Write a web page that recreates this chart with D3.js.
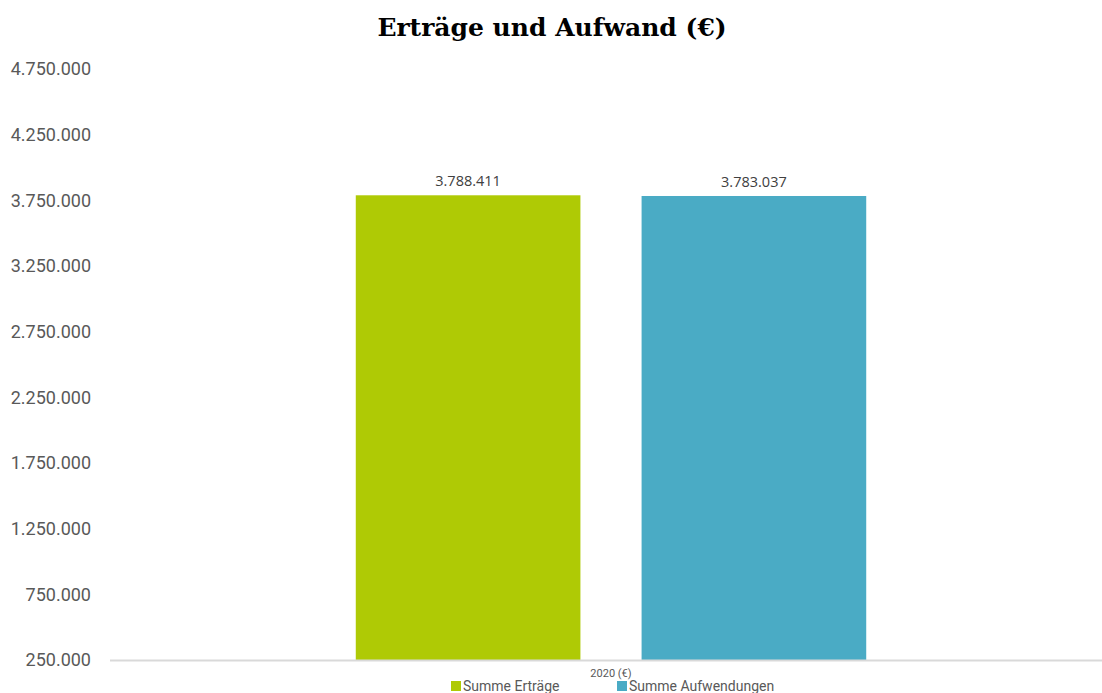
<!DOCTYPE html>
<html>
<head>
<meta charset="utf-8">
<script src="https://cdn.jsdelivr.net/npm/d3@7"></script>
<style>
  body { margin: 0; background: #fff; }
  svg { display: block; }
</style>
</head>
<body>
<svg id="chart"></svg>
<script>
const width = 1102;
const height = 693;

// daten
const categories = ['2020 (€)'];
const seriesNames = ['Summe Erträge', 'Summe Aufwendungen'];
const seriesValues = [3788411, 3783037];
const seriesColors = ['#afca05', '#4aabc5'];
const yTicks = [250000, 750000, 1250000, 1750000, 2250000, 2750000, 3250000, 3750000, 4250000, 4750000];

const fmt = d3.formatLocale({decimal: ',', thousands: '.', grouping: [3], currency: ['', '€']}).format(',d');

const svg = d3.select('#chart')
    .attr('width', width)
    .attr('height', height);

const y = d3.scaleLinear()
    .domain([250000, 4750000])
    .range([660, 69]);

const x0 = d3.scaleBand()
    .domain(categories)
    .range([110, 1112])
    .padding(0.325);

const x1 = d3.scaleBand()
    .domain(seriesNames)
    .range([0, x0.bandwidth()])
    .paddingInner(0.214);

// titel
svg.append('text')
    .attr('x', 552)
    .attr('y', 36)
    .attr('text-anchor', 'middle')
    .attr('font-family', '"DejaVu Serif", serif')
    .attr('font-weight', 'bold')
    .attr('font-size', 25)
    .attr('fill', '#000')
    .text('Erträge und Aufwand (€)');

// y achse
const yAxis = svg.append('g')
    .attr('transform', 'translate(91,0)')
    .call(d3.axisLeft(y).tickValues(yTicks).tickSize(0).tickPadding(0).tickFormat(fmt));
yAxis.select('.domain').remove();
yAxis.selectAll('text')
    .attr('font-family', 'Roboto, sans-serif')
    .attr('font-size', 18)
    .attr('fill', '#595959');

// balken
const group = svg.selectAll('g.cat')
    .data(categories)
    .enter()
    .append('g')
    .attr('class', 'cat')
    .attr('transform', d => `translate(${x0(d)},0)`);

const bars = seriesNames.map((name, i) => ({name: name, value: seriesValues[i], color: seriesColors[i]}));

group.selectAll('rect')
    .data(bars)
    .enter()
    .append('rect')
    .attr('x', d => x1(d.name))
    .attr('y', d => y(d.value))
    .attr('width', x1.bandwidth())
    .attr('height', d => y(250000) - y(d.value))
    .attr('fill', d => d.color);

group.selectAll('text.val')
    .data(bars)
    .enter()
    .append('text')
    .attr('class', 'val')
    .attr('x', d => x1(d.name) + x1.bandwidth() / 2)
    .attr('y', d => y(d.value) - 9)
    .attr('text-anchor', 'middle')
    .attr('font-family', '"Open Sans", sans-serif')
    .attr('font-size', 14.5)
    .attr('fill', '#404040')
    .text(d => fmt(d.value));

// grundlinie
svg.append('line')
    .attr('x1', 110)
    .attr('x2', 1102)
    .attr('y1', y(250000) + 0.5)
    .attr('y2', y(250000) + 0.5)
    .attr('stroke', '#d9d9d9')
    .attr('stroke-width', 2);

// kategorie label
group.append('text')
    .attr('x', x0.bandwidth() / 2)
    .attr('y', 677)
    .attr('text-anchor', 'middle')
    .attr('font-family', 'Roboto, sans-serif')
    .attr('font-size', 11)
    .attr('fill', '#595959')
    .text(d => d);

// legende
const legendX = [451, 617];
const legend = svg.selectAll('g.legend')
    .data(bars)
    .enter()
    .append('g')
    .attr('class', 'legend')
    .attr('transform', (d, i) => `translate(${legendX[i]},681)`);

legend.append('rect')
    .attr('width', 10)
    .attr('height', 10)
    .attr('fill', d => d.color);

legend.append('text')
    .attr('x', 12)
    .attr('y', 10)
    .attr('font-family', 'Roboto, sans-serif')
    .attr('font-size', 14)
    .attr('fill', '#595959')
    .text(d => d.name);
</script>
</body>
</html>
